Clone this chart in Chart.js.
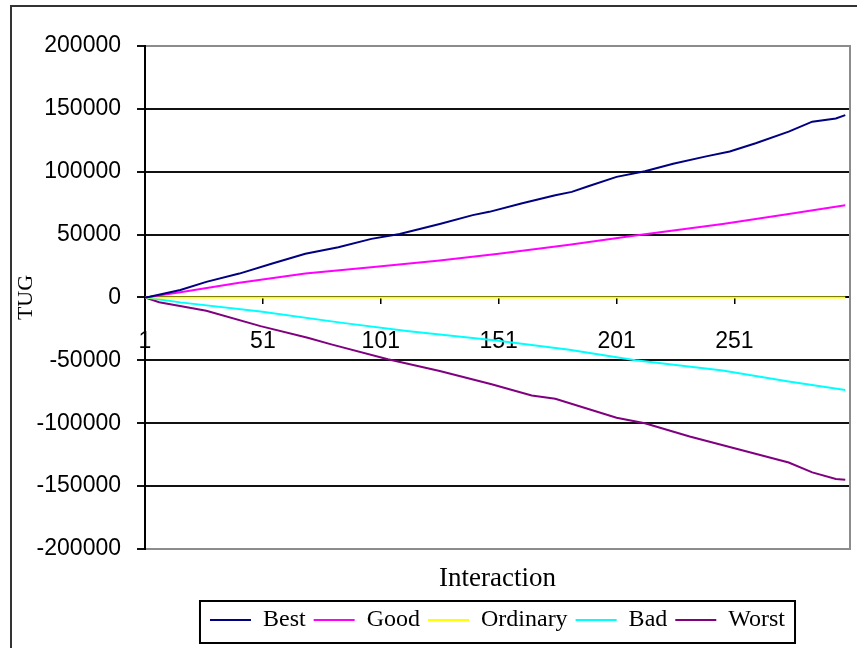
<!DOCTYPE html>
<html>
<head>
<meta charset="utf-8">
<script src="https://cdn.jsdelivr.net/npm/chart.js@4.4.0/dist/chart.umd.min.js"></script>
<style>
body { margin: 0; background: #fff; }
</style>
</head>
<body>
<canvas id="myChart" width="857" height="648"></canvas>
<script>
// values (interaction number, TUG)
var bestIter = [1, 3, 16, 27, 41, 55, 69, 76, 83, 97, 109, 126, 140, 147, 161, 175, 182, 189, 201, 213, 225, 239, 249, 260, 274, 284, 294, 298];
var bestTug  = [0, 500, 5900, 12400, 19000, 27000, 34800, 37400, 40000, 46600, 50500, 58400, 65500, 68100, 75000, 81300, 84000, 88500, 95900, 100400, 106400, 112200, 116100, 122700, 131900, 139800, 142400, 145000];

var goodIter = [1, 16, 41, 69, 98, 126, 151, 181, 209, 246, 274, 298];
var goodTug  = [0, 4100, 11700, 19000, 24300, 29500, 34800, 41900, 49200, 58400, 66300, 73400];

var ordinaryIter = [1, 298];
var ordinaryTug  = [0, 0];

var badIter = [1, 16, 50, 84, 112, 149, 181, 209, 246, 274, 298];
var badTug  = [0, -3900, -11200, -20000, -26700, -34100, -41500, -50000, -58000, -66800, -73500];

var worstIter = [1, 7, 27, 50, 70, 80, 104, 126, 148, 165, 175, 201, 213, 232, 253, 274, 284, 294, 298];
var worstTug  = [0, -3800, -10500, -22800, -32000, -37300, -49200, -58500, -69000, -77900, -80500, -95600, -100000, -110500, -120900, -131300, -139100, -144400, -145000];

var xTickLabels = [1, 51, 101, 151, 201, 251];

function pts(xs, ys) {
    return xs.map(function(x, i) { return {x: x, y: ys[i]}; });
}

var frame = {
    id: 'frame',
    beforeDraw: function(chart) {
        var ctx = chart.ctx;
        ctx.save();
        ctx.fillStyle = '#fff';
        ctx.fillRect(0, 0, chart.width, chart.height);
        ctx.strokeStyle = '#333';
        ctx.lineWidth = 2;
        ctx.beginPath();
        ctx.moveTo(11, chart.height);
        ctx.lineTo(11, 6);
        ctx.lineTo(chart.width, 6);
        ctx.stroke();
        ctx.restore();
    },
    beforeDatasetsDraw: function(chart) {
        var a = chart.chartArea;
        var ctx = chart.ctx;
        ctx.save();
        ctx.strokeStyle = '#8c8c8c';
        ctx.lineWidth = 2;
        ctx.beginPath();
        ctx.moveTo(a.left + 1, a.top);
        ctx.lineTo(a.right, a.top);
        ctx.lineTo(a.right, a.bottom);
        ctx.lineTo(a.left + 1, a.bottom);
        ctx.stroke();
        ctx.restore();
    },
    afterDraw: function(chart) {
        var lg = chart.legend;
        var hb = lg.legendHitBoxes;
        var l = Math.min.apply(null, hb.map(function(b) { return b.left; })) - 10;
        var r = Math.max.apply(null, hb.map(function(b) { return b.left + b.width; })) + 10;
        var ctx = chart.ctx;
        ctx.save();
        ctx.strokeStyle = '#000';
        ctx.lineWidth = 2;
        ctx.strokeRect(l, lg.top + 1, r - l, 42);
        ctx.restore();
    }
};

var ctx = document.getElementById('myChart').getContext('2d');
var myChart = new Chart(ctx, {
    type: 'line',
    data: {
        datasets: [
            {label: 'Best', data: pts(bestIter, bestTug), borderColor: '#000080', backgroundColor: '#000080', borderWidth: 2},
            {label: 'Good', data: pts(goodIter, goodTug), borderColor: '#ff00ff', backgroundColor: '#ff00ff', borderWidth: 2},
            {label: 'Ordinary', data: pts(ordinaryIter, ordinaryTug), borderColor: '#ffff00', backgroundColor: '#ffff00', borderWidth: 2},
            {label: 'Bad', data: pts(badIter, badTug), borderColor: '#00ffff', backgroundColor: '#00ffff', borderWidth: 2},
            {label: 'Worst', data: pts(worstIter, worstTug), borderColor: '#800080', backgroundColor: '#800080', borderWidth: 2}
        ]
    },
    options: {
        responsive: false,
        animation: false,
        elements: {
            line: { tension: 0 },
            point: { radius: 0 }
        },
        layout: { padding: { left: 0, top: 46, right: 7, bottom: 6 } },
        scales: {
            x: {
                type: 'linear',
                position: { y: 0 },
                min: 1,
                max: 300,
                afterBuildTicks: function(scale) {
                    scale.ticks = xTickLabels.map(function(v) { return {value: v}; });
                },
                ticks: {
                    color: '#000',
                    padding: 24,
                    maxRotation: 0,
                    autoSkip: false,
                    callback: function(v) { return String(v); },
                    font: { family: 'Liberation Sans', size: 23 }
                },
                grid: { drawOnChartArea: false, drawTicks: true, tickLength: 6, color: '#000', lineWidth: 1.5 },
                border: { color: '#000', width: 2 }
            },
            xTitle: {
                type: 'linear',
                axis: 'x',
                position: 'bottom',
                min: 0,
                max: 1,
                ticks: { display: false },
                grid: { display: false },
                border: { display: false },
                title: {
                    display: true,
                    text: 'Interaction',
                    color: '#000',
                    padding: { top: 6, bottom: 6 },
                    font: { family: 'Liberation Serif', size: 27, lineHeight: 1.15 }
                }
            },
            y: {
                min: -200000,
                max: 200000,
                afterFit: function(scale) { scale.width = 145; },
                ticks: {
                    stepSize: 50000,
                    color: '#000',
                    padding: 16,
                    callback: function(v) { return String(v); },
                    font: { family: 'Liberation Sans', size: 23 }
                },
                grid: {
                    color: '#111',
                    lineWidth: 2,
                    tickLength: 8
                },
                border: { color: '#000', width: 2 },
                title: {
                    display: true,
                    text: 'TUG',
                    color: '#000',
                    padding: { top: 13, bottom: 0 },
                    font: { family: 'Liberation Serif', size: 22, lineHeight: 1.2 }
                }
            }
        },
        plugins: {
            legend: {
                position: 'bottom',
                fullSize: false,
                labels: {
                    color: '#000',
                    usePointStyle: true,
                    pointStyle: 'line',
                    pointStyleWidth: 41,
                    padding: 8,
                    font: { family: 'Liberation Serif', size: 24 }
                }
            },
            tooltip: { enabled: false }
        }
    },
    plugins: [frame]
});
</script>
</body>
</html>
